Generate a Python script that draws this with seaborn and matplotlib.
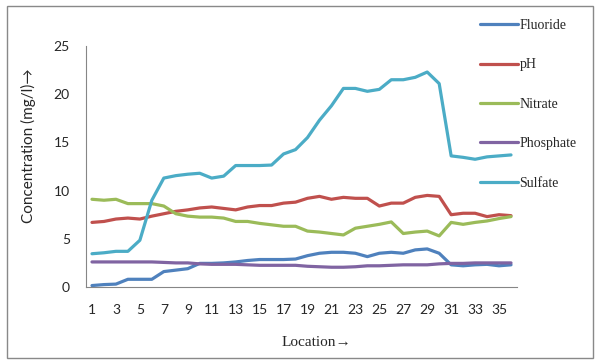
import numpy as np
import pandas as pd
import seaborn as sns
import matplotlib.pyplot as plt
from matplotlib.patches import Rectangle
from matplotlib.lines import Line2D

# Dados (36 locais)
locations = list(range(1, 37))
series_names = ['Fluoride', 'pH', 'Nitrate', 'Phosphate', 'Sulfate']
fluoride = [0.15, 0.25, 0.3, 0.8, 0.8, 0.8, 1.6, 1.75, 1.9, 2.45, 2.45, 2.5, 2.6, 2.75, 2.85, 2.85, 2.85, 2.9,
            3.25, 3.5, 3.6, 3.6, 3.5, 3.15, 3.5, 3.6, 3.5, 3.85, 3.95, 3.5, 2.3, 2.2, 2.3, 2.35, 2.2, 2.3]
ph = [6.7, 6.8, 7.05, 7.15, 7.05, 7.35, 7.6, 7.85, 8.0, 8.2, 8.3, 8.15, 8.0, 8.3, 8.45, 8.45, 8.7, 8.8,
      9.2, 9.4, 9.1, 9.3, 9.2, 9.2, 8.4, 8.7, 8.7, 9.3, 9.5, 9.4, 7.5, 7.65, 7.65, 7.3, 7.5, 7.4]
nitrate = [9.1, 9.0, 9.1, 8.65, 8.65, 8.65, 8.4, 7.6, 7.35, 7.25, 7.25, 7.15, 6.8, 6.8, 6.6, 6.45, 6.3, 6.3,
           5.8, 5.7, 5.55, 5.4, 6.1, 6.3, 6.5, 6.75, 5.55, 5.7, 5.8, 5.3, 6.7, 6.5, 6.7, 6.85, 7.1, 7.3]
phosphate = [2.6, 2.6, 2.6, 2.6, 2.6, 2.6, 2.55, 2.5, 2.5, 2.4, 2.35, 2.35, 2.35, 2.3, 2.25, 2.25, 2.25, 2.25,
             2.15, 2.1, 2.05, 2.05, 2.1, 2.2, 2.2, 2.25, 2.3, 2.3, 2.3, 2.4, 2.45, 2.45, 2.5, 2.5, 2.5, 2.5]
sulfate = [3.45, 3.55, 3.7, 3.7, 4.85, 9.0, 11.3, 11.55, 11.7, 11.8, 11.3, 11.5, 12.6, 12.6, 12.6, 12.65, 13.8, 14.25,
           15.5, 17.3, 18.8, 20.6, 20.6, 20.3, 20.5, 21.5, 21.5, 21.75, 22.3, 21.1, 13.6, 13.45, 13.25, 13.5, 13.6, 13.7]
colors = ['#4F81BD', '#C0504D', '#9BBB59', '#8064A2', '#4BACC6']

# Formato longo para o seaborn
df = pd.DataFrame({'location': locations, 'Fluoride': fluoride, 'pH': ph, 'Nitrate': nitrate,
                   'Phosphate': phosphate, 'Sulfate': sulfate})
df_long = df.melt(id_vars='location', var_name='param', value_name='conc')

sns.set_style('white')
sans = ['Lato', 'DejaVu Sans']
serif = ['Liberation Serif', 'DejaVu Serif']
plt.rcParams['font.family'] = sans

W, H = 601, 364
fig = plt.figure(figsize=(W / 100, H / 100), dpi=100, facecolor='white')
ax = fig.add_axes([86 / W, 1 - 287 / H, (517 - 86) / W, (287 - 46) / H])

sns.lineplot(data=df_long, x='location', y='conc', hue='param', hue_order=series_names,
             palette=colors, linewidth=2.3, legend=False, ax=ax)

ax.set_xlim(0.5, 36.5)
ax.set_ylim(0, 25)
ax.set_xticks(locations[::2])
ax.set_yticks(range(0, 26, 5))
ax.tick_params(axis='x', length=0, pad=12, labelsize=10)
ax.tick_params(axis='y', length=3.6, width=0.8, color='#868686', direction='out', pad=8, labelsize=10)
for s in ['top', 'right']:
    ax.spines[s].set_visible(False)
for s in ['left', 'bottom']:
    ax.spines[s].set_color('#868686')
    ax.spines[s].set_linewidth(0.8)
ax.set_xlabel('')
ax.set_ylabel('')

fig.text(28 / W, 1 - 146 / H, 'Concentration (mg/l)→', rotation=90, ha='center', va='center',
         fontsize=11, family=sans)
fig.text(282 / W, 1 - 343 / H, 'Location→', ha='left', va='center', fontsize=11, family=serif)

# Legenda à direita
handles = [Line2D([0], [0], color=c, lw=2.3) for c in colors]
fig.legend(handles, series_names, loc='upper left', bbox_to_anchor=(480 / W, 1 - 19 / H),
           frameon=False, prop={'family': serif, 'size': 10}, handlelength=2.7,
           handletextpad=0.15, labelspacing=1.9, borderaxespad=0, borderpad=0)

# Moldura externa
fig.patches.append(Rectangle((7 / W, 1 - 358 / H), 586 / W, 352 / H, transform=fig.transFigure,
                             fill=False, edgecolor='#898989', linewidth=1))

plt.savefig('out.png', dpi=100)
plt.close()
